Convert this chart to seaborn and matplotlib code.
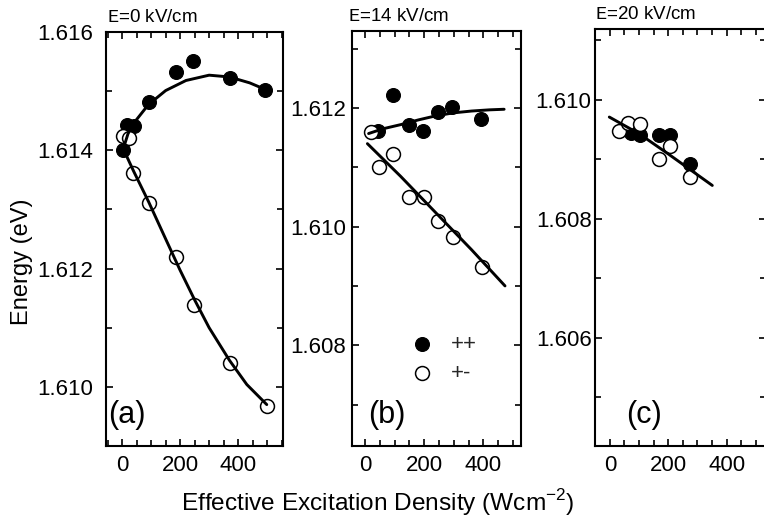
import numpy as np
import pandas as pd
import matplotlib
matplotlib.use("Agg")
import matplotlib.pyplot as plt
from matplotlib.ticker import MultipleLocator
import seaborn as sns

# ---------------- data ----------------
titles = [r"$\mathtt{E}$=0 kV/cm", r"$\mathtt{E}$=14 kV/cm", r"$\mathtt{E}$=20 kV/cm"]
panel_tags = ["(a)", "(b)", "(c)"]

# panel (a)  E = 0 kV/cm
a_pp_x = [2, 16, 39, 91, 184, 246, 371, 494]
a_pp_y = [1.61400, 1.61442, 1.61441, 1.61482, 1.61533, 1.61551, 1.61522, 1.61502]
a_pm_x = [2, 22, 37, 91, 186, 249, 372, 499]
a_pm_y = [1.61424, 1.61420, 1.61362, 1.61311, 1.61219, 1.61139, 1.61041, 1.60968]
a_fit_pp_x = [2, 20, 40, 90, 150, 220, 300, 370, 440, 498]
a_fit_pp_y = [1.61400, 1.61428, 1.61446, 1.61477, 1.61501, 1.61518, 1.61527, 1.61524, 1.61514, 1.61502]
a_fit_pm_x = [4, 39, 91, 150, 200, 250, 300, 370, 430, 499]
a_fit_pm_y = [1.61402, 1.61365, 1.61313, 1.61250, 1.61197, 1.61147, 1.61100, 1.61045, 1.61004, 1.60970]

# panel (b)  E = 14 kV/cm
b_pp_x = [45, 96, 147, 195, 245, 294, 392]
b_pp_y = [1.61162, 1.61222, 1.61172, 1.61161, 1.61193, 1.61202, 1.61181]
b_pm_x = [20, 48, 94, 147, 199, 245, 296, 396]
b_pm_y = [1.61159, 1.61101, 1.61122, 1.61050, 1.61050, 1.61010, 1.60982, 1.60932]
b_fit_pp_x = [12, 60, 120, 180, 240, 300, 360, 420, 470]
b_fit_pp_y = [1.61157, 1.61165, 1.61172, 1.61180, 1.61187, 1.61192, 1.61195, 1.61197, 1.61198]
b_fit_pm_x = [8, 120, 240, 360, 473]
b_fit_pm_y = [1.61140, 1.61085, 1.61023, 1.60961, 1.60900]

# panel (c)  E = 20 kV/cm
c_pp_x = [71, 103, 169, 207, 274]
c_pp_y = [1.60945, 1.60940, 1.60941, 1.60941, 1.60892]
c_pm_x = [32, 63, 103, 169, 205, 274]
c_pm_y = [1.60948, 1.60961, 1.60960, 1.60900, 1.60922, 1.60871]
c_fit_x = [-2, 100, 200, 351]
c_fit_y = [1.60971, 1.60943, 1.60909, 1.60856]

legend_labels = ["++", "+-"]
x_label = "Effective Excitation Density (Wcm$^{-2}$)"
y_label = "Energy (eV)"

# ---------------- styling ----------------
sns.set_theme(style="ticks")
plt.rcParams["font.family"] = ["Liberation Sans", "DejaVu Sans"]
plt.rcParams["mathtext.fontset"] = "custom"
plt.rcParams["mathtext.rm"] = "Liberation Sans"
plt.rcParams["mathtext.tt"] = "Liberation Mono"

fig = plt.figure(figsize=(7.64, 5.19), dpi=100)
W, H = 764.0, 519.0

def add_ax(l, r, t, b):
    return fig.add_axes([l / W, (H - b) / H, (r - l) / W, (b - t) / H])

ax_a = add_ax(106, 283, 32, 446)
ax_b = add_ax(352, 521, 31, 446)
ax_c = add_ax(595, 766, 29, 446)
axes = [ax_a, ax_b, ax_c]

xlims = [(-56, 555), (-44, 527), (-51, 535)]
ylims = [(1.609, 1.616), (1.6063, 1.6133), (1.60418, 1.61119)]
ypads = [9.5, 4.0, 2.5]
tag_x = [0.119, 0.207, 0.287]
title_x = [0.005, -0.024, 0.0]

msize = 100
panels = [
    (a_pp_x, a_pp_y, a_pm_x, a_pm_y, [(a_fit_pp_x, a_fit_pp_y), (a_fit_pm_x, a_fit_pm_y)]),
    (b_pp_x, b_pp_y, b_pm_x, b_pm_y, [(b_fit_pp_x, b_fit_pp_y), (b_fit_pm_x, b_fit_pm_y)]),
    (c_pp_x, c_pp_y, c_pm_x, c_pm_y, [(c_fit_x, c_fit_y)]),
]

for i, (ax, (ppx, ppy, pmx, pmy, fits)) in enumerate(zip(axes, panels)):
    lab_pp = legend_labels[0] if i == 1 else None
    lab_pm = legend_labels[1] if i == 1 else None
    sns.scatterplot(x=ppx, y=ppy, ax=ax, color="black", edgecolor="black",
                    linewidth=0.8, s=msize, zorder=3, label=lab_pp, legend=False)
    sns.scatterplot(x=pmx, y=pmy, ax=ax, color="white", edgecolor="black",
                    linewidth=1.1, s=msize, zorder=4, label=lab_pm, legend=False)
    for fx, fy in fits:
        sns.lineplot(x=fx, y=fy, ax=ax, color="black", linewidth=2.1,
                     sort=False, estimator=None, zorder=5)
    ax.set_xlim(*xlims[i])
    ax.set_ylim(*ylims[i])
    ax.xaxis.set_major_locator(MultipleLocator(200))
    ax.xaxis.set_minor_locator(MultipleLocator(50))
    ax.yaxis.set_major_locator(MultipleLocator(0.002))
    ax.yaxis.set_minor_locator(MultipleLocator(0.001))
    ax.yaxis.set_major_formatter(matplotlib.ticker.FormatStrFormatter("%.3f"))
    ax.tick_params(which="both", direction="in", top=True, right=True,
                   width=1.2, colors="black", labelsize=16)
    ax.tick_params(which="major", length=5)
    ax.tick_params(which="minor", length=4)
    ax.tick_params(axis="x", which="major", pad=6.5)
    ax.tick_params(axis="y", which="major", pad=ypads[i])
    for sp in ax.spines.values():
        sp.set_linewidth(1.5)
        sp.set_color("black")
    ax.set_xlabel("")
    ax.set_ylabel("")
    ax.set_title(titles[i], loc="left", fontsize=13.5, pad=7, color="black",
                 x=title_x[i])
    ax.text(tag_x[i], 0.075, panel_tags[i], transform=ax.transAxes, fontsize=22,
            ha="center", va="center", color="black")

ax_a.set_ylabel(y_label, fontsize=17, color="black")
ax_a.yaxis.set_label_coords(-0.415, 0.444)

leg = ax_b.legend(loc="upper left", bbox_to_anchor=(0.347, 0.27), frameon=False,
                  fontsize=16, handlelength=1.0, handletextpad=0.8,
                  labelspacing=0.35, borderpad=0, borderaxespad=0)

fig.text(378 / W, (H - 503) / H, x_label, ha="center", va="center",
         fontsize=17.6, color="black")

fig.savefig("out.png", dpi=100)
